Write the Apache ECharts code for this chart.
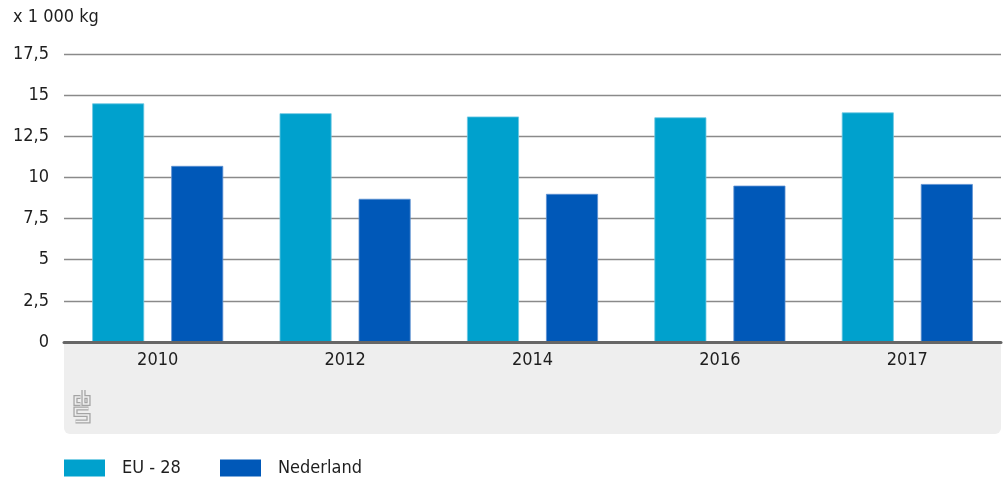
<!DOCTYPE html>
<html>
<head>
<meta charset="utf-8">
<title>Afval per inwoner</title>
<script src="https://cdn.jsdelivr.net/npm/echarts@6/dist/echarts.min.js"></script>
<style>
  html, body { margin: 0; padding: 0; background: #ffffff; }
  #chart { width: 1003px; height: 477px; }
</style>
</head>
<body>
<div id="chart"></div>
<script>
// Years on the category axis
const years = ['2010', '2012', '2014', '2016', '2017'];
// Values in thousands of kg
const euValues = [14.5, 13.9, 13.7, 13.65, 13.95];
const nlValues = [10.7, 8.7, 9.0, 9.5, 9.6];
// Value axis settings and series names
const yMax = 17.5;
const yStep = 2.5;
const seriesNames = ['EU - 28', 'Nederland'];
const unitLabel = 'x 1 000 kg';

const FONT = '"DejaVu Sans Condensed", "DejaVu Sans", sans-serif';
const TEXT = '#1e1e1e';
const EU_COLOR = '#00a1cd';
const NL_COLOR = '#0058b8';

const chart = echarts.init(document.getElementById('chart'), null, { renderer: 'canvas' });

// Outlined "cbs" mark: thick grey strokes with a thinner panel-coloured stroke on top
const logoLines = [
  [[80.5, 397], [75.5, 397], [75.5, 404], [80.5, 404]],
  [[83.5, 390], [83.5, 404], [88.5, 404], [88.5, 397], [83.5, 397]],
  [[88.5, 408.5], [75.5, 408.5], [75.5, 415], [88.5, 415], [88.5, 421.5], [75.5, 421.5]]
];
const logo = [];
logoLines.forEach(pts => {
  logo.push({ type: 'polyline', shape: { points: pts }, style: { fill: null, stroke: '#a4a4a4', lineWidth: 4.2, lineJoin: 'miter', lineCap: 'butt' }, z: 1, silent: true });
});
logoLines.forEach(pts => {
  logo.push({ type: 'polyline', shape: { points: pts }, style: { fill: null, stroke: '#eeeeee', lineWidth: 1.7, lineJoin: 'miter', lineCap: 'butt' }, z: 2, silent: true });
});

const legendBase = {
  top: 459, padding: 0,
  itemWidth: 41, itemHeight: 17,
  icon: 'rect',
  itemStyle: { borderWidth: 0 },
  textStyle: { fontFamily: FONT, fontSize: 18, color: TEXT, padding: [0, 0, 0, 12] }
};

chart.setOption({
  animation: false,
  backgroundColor: '#ffffff',
  textStyle: { fontFamily: FONT, color: TEXT },
  grid: { left: 64, right: 2, top: 54, bottom: 135, containLabel: false },
  graphic: [
    {
      type: 'rect',
      shape: { x: 64, y: 342, width: 937, height: 92, r: [0, 0, 6, 6] },
      style: { fill: '#eeeeee' },
      z: 0,
      silent: true
    },
    {
      type: 'text',
      x: 13,
      y: 8,
      style: { text: unitLabel, fontSize: 18, fontFamily: FONT, fill: TEXT },
      z: 3
    }
  ].concat(logo),
  legend: [
    Object.assign({ data: [seriesNames[0]], left: 64 }, legendBase),
    Object.assign({ data: [seriesNames[1]], left: 220 }, legendBase)
  ],
  xAxis: {
    type: 'category',
    data: years,
    axisTick: { show: false },
    axisLine: { show: true, lineStyle: { color: '#666666', width: 3 } },
    axisLabel: { fontFamily: FONT, fontSize: 18, color: TEXT, margin: 9 },
    z: 5
  },
  yAxis: {
    type: 'value',
    min: 0,
    max: yMax,
    interval: yStep,
    axisLine: { show: false },
    axisTick: { show: false },
    splitLine: { lineStyle: { color: '#8a8a8a', width: 1.4 } },
    axisLabel: {
      fontFamily: FONT, fontSize: 18, color: TEXT, margin: 15,
      formatter: v => String(v).replace('.', ',')
    }
  },
  series: [
    {
      name: seriesNames[0],
      type: 'bar',
      data: euValues,
      barWidth: 52,
      barGap: '52%',
      itemStyle: { color: EU_COLOR, borderColor: '#6cc8e2', borderWidth: 0.8 },
      z: 3
    },
    {
      name: seriesNames[1],
      type: 'bar',
      data: nlValues,
      barWidth: 52,
      barGap: '52%',
      itemStyle: { color: NL_COLOR, borderColor: '#5c8fd0', borderWidth: 0.8 },
      z: 3
    }
  ]
});
</script>
</body>
</html>
